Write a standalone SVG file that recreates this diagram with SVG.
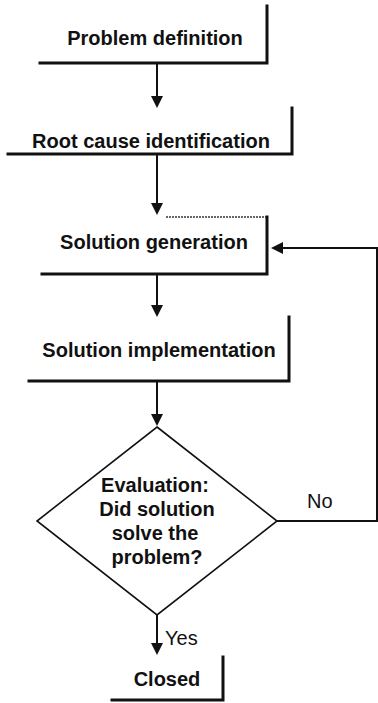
<svg xmlns="http://www.w3.org/2000/svg" width="378" height="703" viewBox="0 0 378 703">
  <style>
    .lbl { font-family: "Liberation Sans", Arial, Helvetica, sans-serif; font-size: 20px; font-weight: bold; fill: #111; text-anchor: middle; }
    .edge { font-family: "Liberation Sans", Arial, Helvetica, sans-serif; font-size: 20px; fill: #111; }
    .box { fill: none; stroke: #111; stroke-width: 3; stroke-linecap: square; }
    .dotted { fill: none; stroke: #666; stroke-width: 2; stroke-dasharray: 2 1; }
    .conn { fill: none; stroke: #111; stroke-width: 2; }
    .dia { fill: #fff; stroke: #111; stroke-width: 1.6; stroke-linejoin: miter; }
  </style>
  <defs>
    <marker id="arrow" markerUnits="userSpaceOnUse" markerWidth="12" markerHeight="12" viewBox="0 0 12 12" refX="8" refY="6" orient="auto">
      <path d="M0,0 L12,6 L0,12 z" fill="#111"/>
    </marker>
  </defs>
  <rect width="378" height="703" fill="#fff"/>

  <g id="connectors">
    <line class="conn" x1="157" y1="64" x2="157" y2="104" marker-end="url(#arrow)"/>
    <line class="conn" x1="157" y1="155" x2="157" y2="211" marker-end="url(#arrow)"/>
    <line class="conn" x1="157" y1="275" x2="157" y2="313" marker-end="url(#arrow)"/>
    <line class="conn" x1="157" y1="382" x2="157" y2="422" marker-end="url(#arrow)"/>
    <line class="conn" x1="157" y1="615" x2="157" y2="651" marker-end="url(#arrow)"/>
    <polyline class="conn" points="277,521 377,521 377,248 275,248" marker-end="url(#arrow)"/>
    <text class="edge" x="307" y="508">No</text>
    <text class="edge" x="165" y="645">Yes</text>
  </g>

  <g id="problem-definition">
    <polyline class="box" points="40,63 267,63 267,6"/>
    <text class="lbl" x="155" y="45">Problem definition</text>
  </g>

  <g id="root-cause">
    <polyline class="box" points="8,154 292,154 292,108"/>
    <text class="lbl" x="151" y="148">Root cause identification</text>
  </g>

  <g id="solution-generation">
    <line class="dotted" x1="166" y1="217" x2="266" y2="217"/>
    <polyline class="box" points="42,274 267,274 267,217"/>
    <text class="lbl" x="154" y="249">Solution generation</text>
  </g>

  <g id="solution-implementation">
    <polyline class="box" points="29,381 289,381 289,317"/>
    <text class="lbl" x="159" y="357">Solution implementation</text>
  </g>

  <g id="evaluation">
    <polygon class="dia" points="157,427 277,521 157,615 37,521"/>
    <text class="lbl" x="155" y="492">Evaluation:</text>
    <text class="lbl" x="157" y="516">Did solution</text>
    <text class="lbl" x="155" y="540">solve the</text>
    <text class="lbl" x="157" y="564">problem?</text>
  </g>

  <g id="closed">
    <polyline class="box" points="112,700 223,700 223,657"/>
    <text class="lbl" x="167" y="686">Closed</text>
  </g>
</svg>
